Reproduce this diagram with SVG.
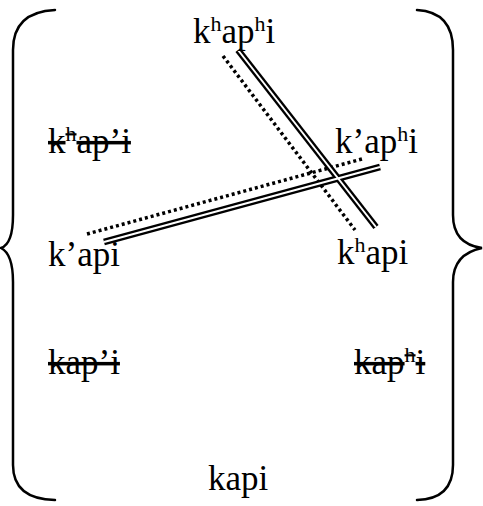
<svg xmlns="http://www.w3.org/2000/svg" width="483" height="506" viewBox="0 0 483 506">
<style>
  text { font-family: "Liberation Serif", "Times New Roman", serif; font-size: 35px; fill: #000; }
  .sup { font-size: 22px; }
  .strike { text-decoration: line-through; }
  .brace { fill: none; stroke: #000; stroke-width: 2.5; stroke-linecap: round; }
  .dbl-outer { stroke: #000; stroke-width: 6.5; fill: none; }
  .dbl-inner { stroke: #fff; stroke-width: 2; fill: none; }
  .dotted { stroke: #000; stroke-width: 3.5; stroke-dasharray: 3 3; fill: none; }
</style>
<rect width="483" height="506" fill="#fff"/>
<g id="braces">
  <path class="brace" d="M55,10 Q13,12 13,50 L13,215 Q13,244 1,248 Q13,254 13,282 L13,465 Q13,499 55,500"/>
  <path class="brace" d="M417,10 Q453,12 453,50 L453,215 Q453,244 482,248 Q453,254 453,282 L453,465 Q453,499 417,500"/>
</g>
<g id="connectors">
  <line class="dotted" x1="223" y1="56" x2="355" y2="230"/>
  <line class="dotted" x1="87" y1="234" x2="362" y2="159"/>
  <line class="dbl-outer" x1="104" y1="242" x2="380" y2="167"/>
  <line class="dbl-outer" x1="238" y1="50" x2="376" y2="227"/>
  <line class="dbl-inner" x1="104" y1="242" x2="380" y2="167"/>
  <line class="dbl-inner" x1="238" y1="50" x2="376" y2="227"/>
</g>
<g id="n-khaphi"><text x="193" y="43">k<tspan class="sup" dy="-12">h</tspan><tspan dy="12">ap</tspan><tspan class="sup" dy="-12">h</tspan><tspan dy="12">i</tspan></text></g>
<g id="n-khapi-struck"><text x="48" y="153"><tspan class="strike">k</tspan><tspan class="sup strike" dy="-12">h</tspan><tspan class="strike" dy="12">ap’i</tspan></text></g>
<g id="n-kaphi"><text x="335" y="153">k’ap<tspan class="sup" dy="-12">h</tspan><tspan dy="12">i</tspan></text></g>
<g id="n-kapi-ej"><text x="48" y="266">k’api</text></g>
<g id="n-khapi"><text x="337" y="264">k<tspan class="sup" dy="-12">h</tspan><tspan dy="12">api</tspan></text></g>
<g id="n-kapi-struck"><text x="48" y="374" class="strike">kap’i</text></g>
<g id="n-kaphi-struck"><text x="354" y="374"><tspan class="strike">kap</tspan><tspan class="sup strike" dy="-12">h</tspan><tspan class="strike" dy="12">i</tspan></text></g>
<g id="n-kapi"><text x="208" y="490">kapi</text></g>
</svg>
